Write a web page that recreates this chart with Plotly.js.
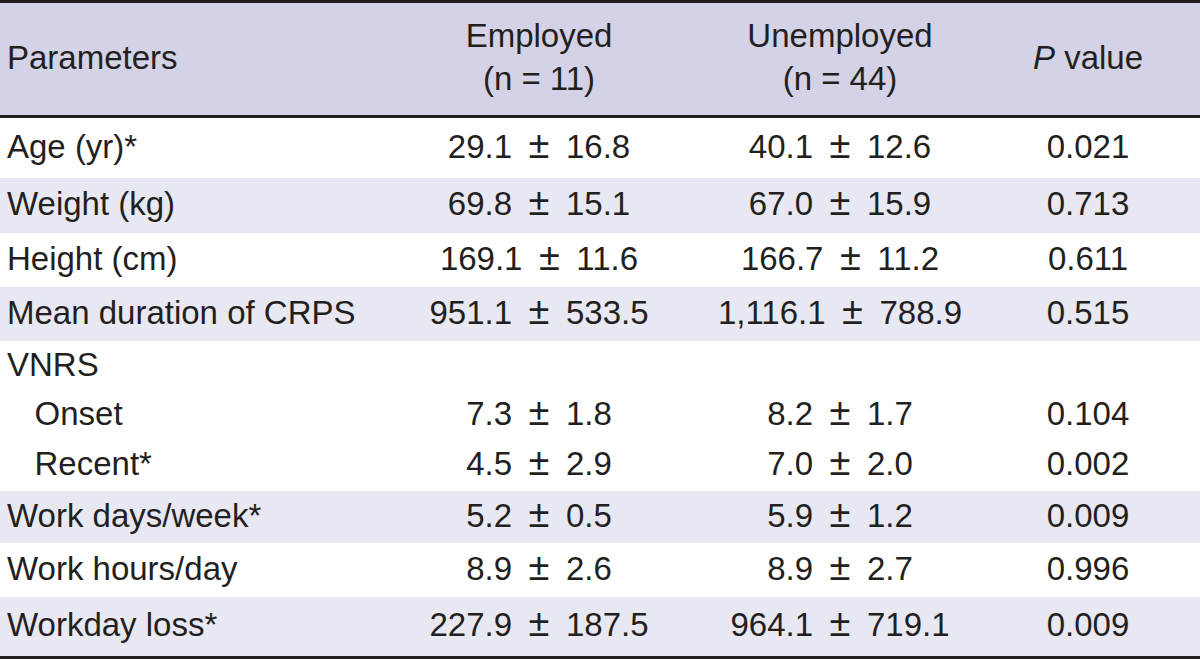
<!DOCTYPE html>
<html>
<head>
<meta charset="utf-8">
<script src="https://cdn.plot.ly/plotly-3.0.1.min.js"></script>
<style>html,body{margin:0;padding:0;background:#fff;}#chart{width:1200px;height:660px;}</style>
</head>
<body>
<div id="chart"></div>
<script>
// ---- data ----
const headerMain = ["Parameters", "Employed", "Unemployed", "<i>P</i> value"];
const headerSub = ["", "(n = 11)", "(n = 44)", ""];
const parameters = ["Age (yr)*", "Weight (kg)", "Height (cm)", "Mean duration of CRPS", "VNRS",
  "Onset", "Recent*", "Work days/week*", "Work hours/day", "Workday loss*"];
const indented = [false, false, false, false, false, true, true, false, false, false];
const employedMean = [29.1, 69.8, 169.1, 951.1, null, 7.3, 4.5, 5.2, 8.9, 227.9];
const employedSD = [16.8, 15.1, 11.6, 533.5, null, 1.8, 2.9, 0.5, 2.6, 187.5];
const unemployedMean = [40.1, 67.0, 166.7, 1116.1, null, 8.2, 7.0, 5.9, 8.9, 964.1];
const unemployedSD = [12.6, 15.9, 11.2, 788.9, null, 1.7, 2.0, 1.2, 2.7, 719.1];
const pValues = [0.021, 0.713, 0.611, 0.515, null, 0.104, 0.002, 0.009, 0.996, 0.009];
const striped = [false, true, false, true, false, false, false, true, false, true];

// ---- layout constants (pixels) ----
const W = 1200, H = 660;
const headTop = 3, headBottom = 115, ruleW = 3;
const bodyTop = 118;
const rowHeights = [60, 55, 54, 54, 50, 48, 52, 52, 54, 59];
const colX = [7, 539, 840, 1088];
const textShift = 1.5;
const headMid = 60.5, headLineOffset = 21.7;
const headFill = "#d3d2e6", stripeFill = "#e8e8f2", ink = "#231f20";
const FONT = {family: "Liberation Sans, Arial, sans-serif", size: 33, color: ink};

// ---- helpers ----
const fmt = v => v.toLocaleString("en-US", {minimumFractionDigits: 1, maximumFractionDigits: 1});
const PM = "\u2002<span style=\"font-size:38px\">\u00b1</span>\u2002";
const pm = (m, s) => (m === null ? "" : fmt(m) + PM + fmt(s));

const rowTops = [];
rowHeights.reduce((acc, h) => { rowTops.push(acc); return acc + h; }, bodyTop);
const rowCenters = rowTops.map((t, i) => t + rowHeights[i] / 2);
const bodyBottom = rowTops[rowTops.length - 1] + rowHeights[rowHeights.length - 1];

const traces = [];

// header band
traces.push({
  type: "bar", orientation: "h", x: [W], base: [0], y: [(headTop + headBottom) / 2],
  width: [headBottom - headTop + 1], marker: {color: headFill, line: {width: 0}},
  hoverinfo: "skip", showlegend: false
});
// striped rows
traces.push({
  type: "bar", orientation: "h",
  x: parameters.map(() => W), base: parameters.map(() => 0), y: rowCenters, width: rowHeights,
  marker: {color: striped.map(s => s ? stripeFill : "rgba(255,255,255,0)"), line: {width: 0}},
  hoverinfo: "skip", showlegend: false
});

// header texts
headerMain.forEach((t, j) => {
  const two = headerSub[j] !== "";
  const xs = two ? [colX[j], colX[j]] : [colX[j]];
  const ys = two ? [headMid - headLineOffset, headMid + headLineOffset] : [headMid];
  const ts = two ? [t, headerSub[j]] : [t];
  traces.push({
    type: "scatter", mode: "text", x: xs, y: ys, text: ts,
    textposition: j === 0 ? "middle right" : "middle center",
    textfont: FONT, hoverinfo: "skip", showlegend: false, cliponaxis: false
  });
});

// body texts
const labelTexts = parameters.map((p, i) => (indented[i] ? "\u00a0\u00a0\u00a0" : "") + p);
const columns = [
  labelTexts,
  employedMean.map((m, i) => pm(m, employedSD[i])),
  unemployedMean.map((m, i) => pm(m, unemployedSD[i])),
  pValues.map(p => (p === null ? "" : p.toFixed(3)))
];
columns.forEach((col, j) => {
  traces.push({
    type: "scatter", mode: "text", x: col.map(() => colX[j]),
    y: rowCenters.map(c => c + textShift), text: col,
    textposition: j === 0 ? "middle right" : "middle center",
    textfont: FONT, hoverinfo: "skip", showlegend: false, cliponaxis: false
  });
});

const rule = y => ({type: "line", xref: "x", yref: "y", x0: 0, x1: W, y0: y, y1: y,
  line: {color: ink, width: ruleW}, layer: "above"});

const layout = {
  width: W, height: H,
  margin: {l: 0, r: 0, t: 0, b: 0},
  paper_bgcolor: "#ffffff", plot_bgcolor: "#ffffff",
  barmode: "overlay",
  xaxis: {range: [0, W], visible: false, fixedrange: true},
  yaxis: {range: [H, 0], visible: false, fixedrange: true},
  shapes: [rule(headTop / 2), rule(headBottom + ruleW / 2), rule(bodyBottom + ruleW / 2)]
};

Plotly.newPlot("chart", traces, layout, {displayModeBar: false, staticPlot: true});
</script>
</body>
</html>
